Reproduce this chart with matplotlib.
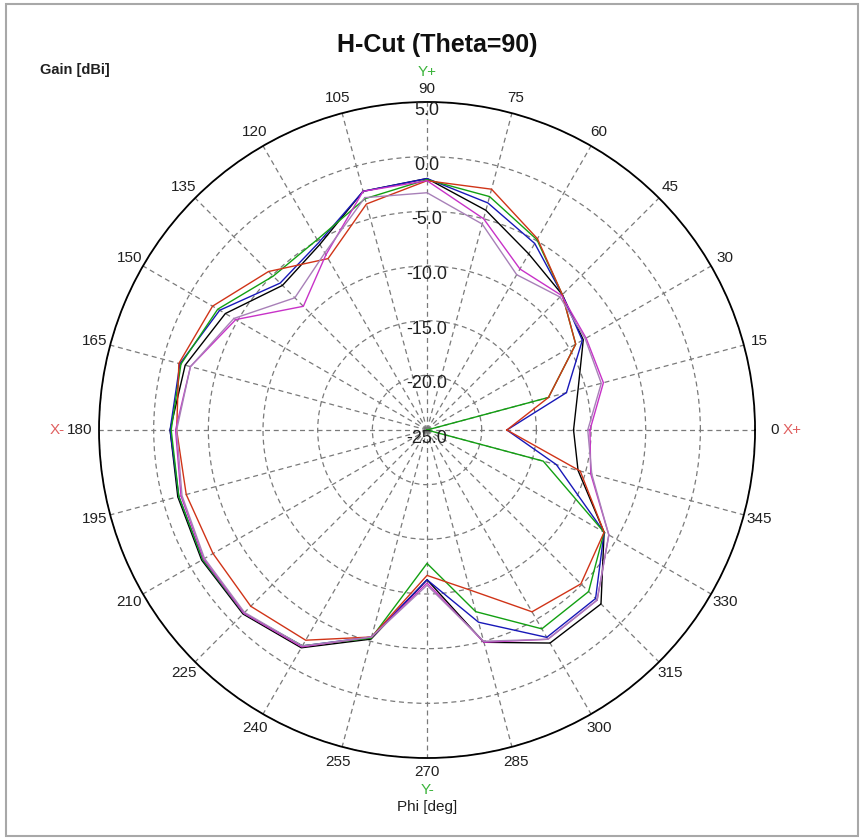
import numpy as np
import matplotlib
matplotlib.use('Agg')
import matplotlib.pyplot as plt
from matplotlib.patches import Rectangle

plt.rcParams['font.family'] = ['Liberation Sans', 'DejaVu Sans']

# ---- data (Phi in degrees, gain in dBi) ----
phi_deg = [0, 15, 30, 45, 60, 75, 90, 105, 120, 135, 150, 165,
           180, 195, 210, 225, 240, 255, 270, 285, 300, 315, 330, 345]

gain_black = [-11.6, -10.7, -8.5, -7.5, -6.4, -4.2, -2.0, -2.4, -5.4, -6.3, -3.7, -2.1,
              -1.5, -1.4, -1.2, -1.2, -2.0, -5.2, -11.3, -4.9, -2.5, -2.5, -6.3, -10.7]
gain_blue = [-17.7, -11.8, -8.6, -7.5, -5.3, -3.5, -2.0, -2.4, -5.2, -6.0, -3.1, -1.6,
             -1.5, -1.5, -1.3, -1.3, -2.2, -5.4, -11.3, -6.8, -3.1, -3.2, -6.3, -12.75]
gain_green = [-25.0, -13.5, -9.3, -7.5, -4.9, -2.9, -2.1, -3.1, -4.9, -5.1, -2.9, -1.7,
              -1.6, -1.5, -1.3, -1.3, -2.2, -5.3, -12.8, -7.8, -4.0, -4.1, -6.3, -14.0]
gain_red = [-17.7, -13.5, -9.3, -7.5, -4.8, -2.2, -2.2, -3.6, -6.9, -4.5, -2.35, -1.5,
            -2.1, -2.2, -2.4, -2.2, -2.8, -5.4, -11.7, -9.85, -5.8, -5.1, -6.3, -10.5]
gain_magenta = [-10.1, -8.3, -8.2, -7.6, -8.0, -5.0, -2.2, -2.4, -6.5, -9.0, -4.8, -2.6,
                -2.0, -1.7, -1.4, -1.3, -2.1, -5.4, -11.0, -4.9, -2.9, -3.0, -5.8, -9.5]
gain_violet = [-10.3, -8.5, -8.3, -7.8, -8.6, -5.5, -3.3, -3.0, -6.3, -7.9, -4.6, -2.6,
               -2.1, -1.8, -1.5, -1.4, -2.2, -5.4, -10.8, -5.0, -2.9, -3.0, -5.8, -9.4]

series = [
    (gain_black, '#000000'),
    (gain_blue, '#1818b8'),
    (gain_green, '#12a012'),
    (gain_red, '#d03418'),
    (gain_magenta, '#c832c8'),
    (gain_violet, '#a880b8'),
]

r_ticks = [-25.0, -20.0, -15.0, -10.0, -5.0, 0.0, 5.0]
theta_ticks = list(range(0, 360, 15))

title = 'H-Cut (Theta=90)'
r_axis_label = 'Gain [dBi]'
theta_axis_label = 'Phi [deg]'

# ---- figure ----
fig = plt.figure(figsize=(8.64, 8.4), dpi=100)
fig.patch.set_facecolor('white')
fig.patches.append(Rectangle((6 / 864, 4 / 840), 852 / 864, 832 / 840,
                             transform=fig.transFigure, fill=False,
                             edgecolor='#a8a8a8', linewidth=1.5))

ax = fig.add_axes([0.1146, 0.0976, 0.7593, 0.781], projection='polar')
ax.set_ylim(r_ticks[0], r_ticks[-1])
ax.set_yticks(r_ticks)
ax.set_yticklabels([])
ax.set_xticks(np.deg2rad(theta_ticks))
ax.set_xticklabels([])
ax.grid(True, color='#7a7a7a', linestyle=(0, (4, 3)), linewidth=0.9)
ax.spines['polar'].set_color('black')
ax.spines['polar'].set_linewidth(1.3)

for vals, col in series:
    th = np.deg2rad(phi_deg + [phi_deg[0]])
    rr = vals + [vals[0]]
    ax.plot(th, rr, color=col, linewidth=1.0)

# radial labels along 90 deg
for r in r_ticks:
    ax.text(np.pi / 2, r, f'{r:.1f}', ha='center', va='top', fontsize=13,
            color='#202020', zorder=5)

rmax = r_ticks[-1]
lab_col = '#202020'
xcol = '#e06060'
ycol = '#3cb43c'
for a in theta_ticks:
    t = np.deg2rad(a)
    if a == 0:
        ax.annotate('0', xy=(t, rmax), xytext=(10.8, 0), textcoords='offset points',
                    ha='left', va='center', fontsize=11, color=lab_col, annotation_clip=False)
        ax.annotate('X+', xy=(t, rmax), xytext=(20, 0), textcoords='offset points',
                    ha='left', va='center', fontsize=11, color=xcol, annotation_clip=False)
    elif a == 180:
        ax.annotate('180', xy=(t, rmax), xytext=(-5, 0), textcoords='offset points',
                    ha='right', va='center', fontsize=11, color=lab_col, annotation_clip=False)
        ax.annotate('X-', xy=(t, rmax), xytext=(-24.5, 0), textcoords='offset points',
                    ha='right', va='center', fontsize=11, color=xcol, annotation_clip=False)
    elif a == 90:
        ax.annotate('90', xy=(t, rmax), xytext=(0, 9.5), textcoords='offset points',
                    ha='center', va='center', fontsize=11, color=lab_col, annotation_clip=False)
        ax.annotate('Y+', xy=(t, rmax), xytext=(0, 21.5), textcoords='offset points',
                    ha='center', va='center', fontsize=11, color=ycol, annotation_clip=False)
    elif a == 270:
        ax.annotate('270', xy=(t, rmax), xytext=(0, -10), textcoords='offset points',
                    ha='center', va='center', fontsize=11, color=lab_col, annotation_clip=False)
        ax.annotate('Y-', xy=(t, rmax), xytext=(0, -23), textcoords='offset points',
                    ha='center', va='center', fontsize=11, color=ycol, annotation_clip=False)
        ax.annotate(theta_axis_label, xy=(t, rmax), xytext=(0, -35.5),
                    textcoords='offset points', ha='center', va='center',
                    fontsize=11, color=lab_col, annotation_clip=False)
    else:
        off = 11.5
        ax.annotate(str(a), xy=(t, rmax),
                    xytext=(off * np.cos(t), off * np.sin(t)),
                    textcoords='offset points', ha='center', va='center',
                    fontsize=11, color=lab_col, annotation_clip=False)

fig.text(437 / 864, 1 - 45 / 840, title, ha='center', va='center',
         fontsize=18, fontweight='bold', color='#101010')
fig.text(40 / 864, 1 - 70 / 840, r_axis_label, ha='left', va='center',
         fontsize=10.5, fontweight='bold', color='#202020')

fig.savefig('out.png', dpi=100, facecolor='white')
